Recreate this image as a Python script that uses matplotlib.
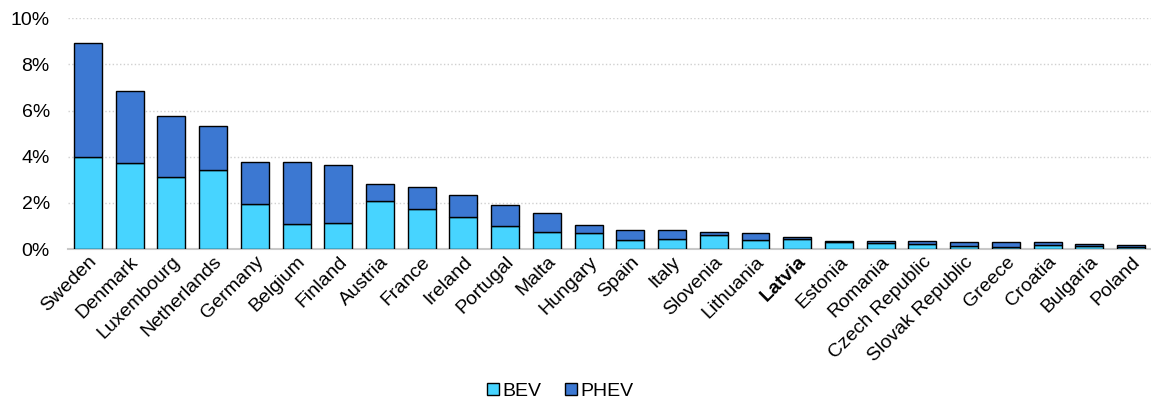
import numpy as np
import matplotlib.pyplot as plt
from matplotlib.ticker import FuncFormatter

plt.rcParams.update({'font.size': 14, 'font.family': ['Liberation Sans', 'DejaVu Sans']})

countries = ['Sweden', 'Denmark', 'Luxembourg', 'Netherlands', 'Germany', 'Belgium',
             'Finland', 'Austria', 'France', 'Ireland', 'Portugal', 'Malta', 'Hungary',
             'Spain', 'Italy', 'Slovenia', 'Lithuania', 'Latvia', 'Estonia', 'Romania',
             'Czech Republic', 'Slovak Republic', 'Greece', 'Croatia', 'Bulgaria', 'Poland']
# share of new car registrations, %
bev = [3.98, 3.72, 3.12, 3.42, 1.95, 1.08, 1.13, 2.08, 1.73, 1.38, 1.00, 0.76, 0.69,
       0.39, 0.42, 0.60, 0.40, 0.45, 0.30, 0.26, 0.20, 0.15, 0.08, 0.16, 0.12, 0.08]
phev = [4.94, 3.12, 2.64, 1.90, 1.82, 2.69, 2.51, 0.73, 0.95, 0.96, 0.92, 0.78, 0.35,
        0.45, 0.42, 0.13, 0.30, 0.08, 0.07, 0.10, 0.13, 0.17, 0.21, 0.13, 0.08, 0.09]

x = np.arange(len(countries))

fig = plt.figure(figsize=(11.51, 4.03), dpi=100)
ax = fig.add_axes([0.059, 0.382, 0.941, 0.573])

ax.bar(x, bev, width=0.67, color='#47d4ff', edgecolor='black', linewidth=1, label='BEV', zorder=3)
ax.bar(x, phev, width=0.67, bottom=bev, color='#3c78d2', edgecolor='black', linewidth=1,
       label='PHEV', zorder=3)

ax.set_ylim(0, 10)
ax.set_xlim(-0.48, len(countries) - 0.52)
ax.set_yticks(range(0, 11, 2))
ax.yaxis.set_major_formatter(FuncFormatter(lambda v, _: f'{v:.0f}%'))
ax.yaxis.grid(True, linestyle=':', color='#d0d0d0', linewidth=1)
ax.set_axisbelow(True)

for s in ['top', 'right', 'left']:
    ax.spines[s].set_visible(False)
ax.spines['bottom'].set_color('#c8c8c8')
ax.spines['bottom'].set_linewidth(1.5)
ax.tick_params(length=0, labelsize=14)
ax.tick_params(axis='y', pad=13)
ax.tick_params(axis='x', pad=3)

ax.set_xticks(x)
ax.set_xticklabels(countries, rotation=45, ha='right', rotation_mode='anchor')
for lbl in ax.get_xticklabels():
    if lbl.get_text() == 'Latvia':
        lbl.set_fontweight('bold')

fig.legend(loc='lower center', bbox_to_anchor=(0.487, -0.035), ncol=2, frameon=False,
           handlelength=0.6, handleheight=0.6, handletextpad=0.2, columnspacing=1.2,
           fontsize=14)

plt.savefig('out.png', dpi=100)
